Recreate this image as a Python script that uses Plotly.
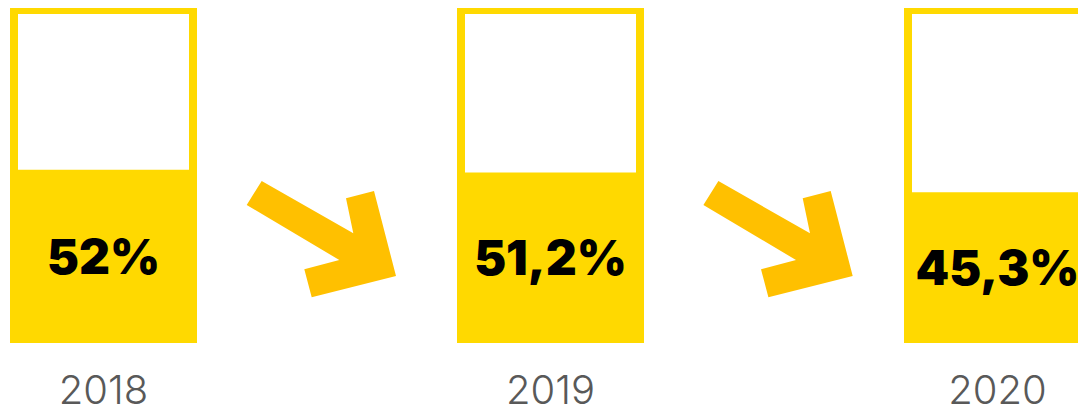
import plotly.graph_objects as go

# ---- data ----
years = ["2018", "2019", "2020"]
shares = [52.0, 51.2, 45.3]
share_labels = ["52%", "51,2%", "45,3%"]
capacity = [100, 100, 100]

# ---- style / layout constants ----
OFF = 8                    # page offset of the figure (default body margin)
W, H = 1086 - OFF, 409 - OFF
PLOT_BOTTOM = 343 - OFF    # figure pixel row of the plot-area bottom
STEP_PX = 447              # distance between bar centres in pixels
FIRST_CENTER_PX = 103.5 - OFF
PX_PER_UNIT = 3.33         # vertical pixels per percentage point
YELLOW = "#FFD900"
ARROW = "#FFC000"
GREY = "#595959"

xpos = list(range(len(years)))

fig = go.Figure()

# outline "glass" for each year
fig.add_trace(go.Bar(
    x=xpos, y=capacity,
    width=179 / STEP_PX,
    marker=dict(color="white", line=dict(color=YELLOW, width=8)),
    hoverinfo="skip", showlegend=False,
))
# filled share
fig.add_trace(go.Bar(
    x=xpos, y=shares,
    width=187 / STEP_PX,
    marker=dict(color=YELLOW, line=dict(width=0)),
    text=share_labels,
    textposition="inside",
    insidetextanchor="middle",
    constraintext="none",
    textangle=0,
    textfont=dict(family="Inter", size=48, color="black", weight=900),
    hoverinfo="skip", showlegend=False,
))

# decorative arrows between the glasses (pixel template -> paper coords)
arrow_tpl = [(0, 0), (15, -24), (106.6, 28.3), (99.3, -6.7), (127.3, -14),
             (149.3, 71), (65, 92.3), (57.6, 64.3), (92.6, 55)]
arrow_anchors = [(246.7, 205), (703.4, 205)]   # page pixels


def to_paper(px, py):
    return (px - OFF) / W, 1 - (py - OFF) / PLOT_BOTTOM


shapes = []
for ax, ay in arrow_anchors:
    pts = [to_paper(ax + dx, ay + dy) for dx, dy in arrow_tpl]
    path = "M " + " L ".join(f"{x:.5f},{y:.5f}" for x, y in pts) + " Z"
    shapes.append(dict(type="path", path=path, xref="paper", yref="paper",
                       fillcolor=ARROW, line=dict(width=0), layer="above"))

fig.update_layout(
    width=W, height=H,
    margin=dict(l=0, r=0, t=0, b=H - PLOT_BOTTOM, pad=0, autoexpand=False),
    paper_bgcolor="white", plot_bgcolor="white",
    barmode="overlay",
    shapes=shapes,
    xaxis=dict(
        range=[-FIRST_CENTER_PX / STEP_PX, (W - FIRST_CENTER_PX) / STEP_PX],
        tickvals=xpos, ticktext=years,
        tickfont=dict(family="Inter", size=40, color=GREY, weight=300),
        ticks="", ticklabelstandoff=20, automargin=False,
        showgrid=False, zeroline=False, showline=False, fixedrange=True,
    ),
    yaxis=dict(
        range=[0, PLOT_BOTTOM / PX_PER_UNIT],
        visible=False, showgrid=False, zeroline=False, fixedrange=True,
        automargin=False,
    ),
)

fig.write_html("out.html")
